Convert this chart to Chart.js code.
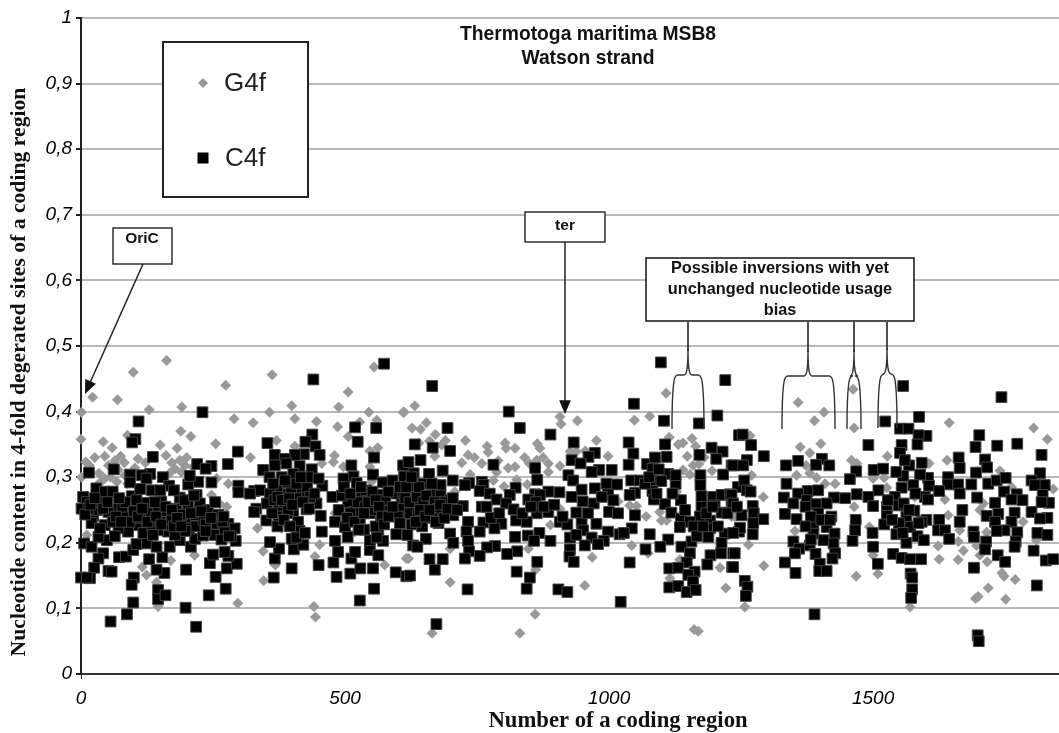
<!DOCTYPE html>
<html><head><meta charset="utf-8">
<style>html,body{margin:0;padding:0;background:#fff}#w{position:relative;width:1059px;height:733px}</style>
<script src="https://cdn.jsdelivr.net/npm/chart.js@4"></script>
</head><body><div id="w"><canvas id="c" width="1059" height="733"></canvas></div>
<script>
const titleLines=["Thermotoga maritima MSB8","Watson strand"];
const xAxisTitle="Number of a coding region";
const yAxisTitle="Nucleotide content in 4-fold degerated sites of a coding region";
const xTickValues=[0,500,1000,1500];
const yTickValues=[0,0.1,0.2,0.3,0.4,0.5,0.6,0.7,0.8,0.9,1];
const g4f=[[162,.478],[99,.46],[362,.456],[555,.468],[274,.44],[506,.43],[22,.422],[69,.418],[1,.399],[129,.403],[191,.407],[357,.399],[399,.409],[488,.407],[545,.399],[610,.399],[290,.389],[326,.383],[405,.389],[446,.385],[528,.384],[486,.377],[189,.37],[208,.362],[88,.364],[0,.358],[42,.354],[255,.351],[150,.349],[182,.344],[59,.345],[45,.332],[75,.332],[161,.333],[370,.356],[405,.347],[506,.362],[560,.387],[562,.345],[547,.34],[480,.333],[478,.323],[321,.33],[9,.323],[187,.326],[197,.318],[178,.313],[190,.308],[102,.314],[34,.306],[71,.311],[83,.303],[1,.3],[45,.298],[68,.293],[279,.29],[257,.298],[547,.316],[550,.293],[497,.316],[456,.321],[247,.273],[276,.255],[263,.259],[481,.245],[334,.222],[380,.222],[519,.217],[11,.212],[345,.187],[452,.197],[215,.181],[170,.173],[616,.176],[116,.163],[124,.151],[368,.166],[443,.179],[575,.166],[143,.14],[346,.142],[146,.103],[297,.108],[441,.103],[444,.087],
[632,.409],[612,.399],[1108,.428],[1077,.393],[1048,.387],[907,.392],[909,.381],[940,.386],[654,.383],[627,.375],[643,.373],[671,.365],[728,.356],[976,.356],[803,.352],[864,.351],[769,.347],[805,.344],[822,.344],[869,.344],[771,.338],[733,.334],[683,.349],[670,.332],[998,.332],[1114,.361],[1131,.35],[1140,.352],[1157,.359],[1164,.347],[1148,.332],[721,.322],[759,.321],[863,.326],[849,.321],[885,.321],[822,.316],[809,.314],[885,.308],[907,.317],[938,.339],[926,.339],[1159,.318],[1140,.311],[1153,.304],[787,.308],[737,.304],[781,.295],[825,.296],[845,.289],[801,.286],[708,.278],[1017,.263],[1039,.257],[1052,.256],[907,.252],[1070,.24],[1096,.247],[1099,.234],[1109,.234],[1128,.278],[1238,.24],[889,.227],[1043,.196],[699,.191],[847,.191],[1074,.184],[620,.176],[968,.178],[1175,.209],[1210,.162],[1134,.174],[861,.159],[1115,.146],[699,.14],[954,.135],[1221,.131],[860,.091],[665,.062],[831,.062],[1161,.068],[1169,.065],
[1462,.434],[1358,.414],[1407,.399],[1389,.386],[1464,.375],[1644,.383],[1804,.375],[1830,.358],[1362,.346],[1401,.351],[1267,.363],[1380,.337],[1527,.332],[1459,.326],[1640,.326],[1355,.303],[1373,.318],[1380,.306],[1393,.299],[1409,.29],[1428,.29],[1270,.303],[1469,.321],[1500,.298],[1521,.299],[1526,.284],[1606,.321],[1740,.31],[1762,.285],[1841,.282],[1292,.27],[1636,.266],[1464,.255],[1709,.26],[1579,.27],[1642,.242],[1702,.25],[1784,.232],[1232,.24],[1352,.218],[1493,.224],[1664,.219],[1715,.216],[1661,.202],[1671,.188],[1623,.195],[1264,.197],[1809,.204],[1696,.196],[1702,.181],[1500,.181],[1625,.175],[1661,.174],[1716,.171],[1293,.165],[1468,.149],[1509,.153],[1744,.154],[1748,.149],[1769,.144],[1718,.131],[1694,.115],[1699,.118],[1751,.114],[1257,.102],[1570,.102],
[16,.318],[26,.33],[52,.318],[64,.325],[82,.322],[108,.328],[122,.322],[172,.322],[200,.33],[212,.315],[168,.306],[88,.29],[56,.3],[36,.292],[660,.355],[690,.356],[640,.352],[745,.33],[790,.325],[840,.33],[875,.33],[955,.34],[1170,.32],[1180,.33],[1195,.31]];
const c4f=[[574,.473],[440,.449],[230,.399],[109,.385],[519,.376],[559,.375],[103,.358],[97,.353],[524,.354],[438,.365],[353,.352],[425,.354],[444,.347],[297,.339],[136,.331],[452,.334],[555,.33],[422,.335],[405,.334],[367,.334],[386,.328],[220,.32],[278,.32],[247,.317],[62,.312],[15,.307],[512,.318],[345,.311],[367,.318],[389,.321],[414,.317],[437,.312],[93,.304],[131,.305],[115,.303],[155,.3],[236,.313],[357,.3],[553,.304],[516,.301],[497,.298],[380,.3],[411,.3],[93,.292],[124,.298],[222,.293],[247,.292],[203,.289],[572,.292],[522,.291],[167,.287],[29,.283],[374,.284],[298,.287],[457,.287],[134,.28],[45,.278],[60,.278],[219,.273],[298,.277],[328,.279],[339,.28],[320,.275],[418,.278],[358,.275],[392,.274],[476,.27],[531,.274],[547,.27],[566,.273],[96,.271],[4,.27],[11,.262],[29,.256],[1,.252],[152,.263],[187,.269],[225,.26],[121,.261],[71,.252],[52,.247],[86,.243],[23,.241],[20,.23],[105,.265],[127,.245],[146,.25],[181,.252],[203,.257],[213,.242],[241,.25],[260,.243],[279,.229],[291,.222],[257,.229],[332,.252],[328,.247],[374,.255],[351,.234],[374,.24],[402,.245],[446,.26],[427,.251],[454,.241],[411,.232],[414,.218],[456,.217],[506,.262],[481,.232],[500,.224],[528,.237],[516,.247],[547,.245],[572,.25],[568,.232],[563,.217],[505,.209],[597,.213],[607,.265],[597,.251],[613,.306],[610,.318],[597,.275],[616,.245],[6,.199],[20,.194],[49,.204],[33,.209],[42,.184],[33,.176],[25,.162],[72,.178],[85,.179],[52,.157],[58,.156],[0,.147],[17,.146],[11,.147],[100,.147],[96,.136],[99,.109],[87,.091],[56,.08],[146,.128],[146,.114],[160,.12],[198,.101],[218,.072],[242,.12],[274,.13],[255,.148],[276,.161],[295,.168],[279,.18],[272,.186],[244,.169],[250,.182],[199,.159],[158,.154],[143,.159],[129,.175],[154,.178],[99,.189],[105,.198],[125,.199],[143,.194],[168,.194],[187,.204],[208,.194],[216,.206],[231,.211],[253,.212],[293,.203],[165,.217],[168,.227],[146,.219],[124,.224],[105,.227],[89,.217],[71,.222],[45,.227],[197,.23],[159,.24],[367,.176],[375,.191],[358,.201],[403,.19],[421,.197],[399,.206],[365,.147],[399,.161],[450,.166],[478,.17],[484,.148],[510,.153],[529,.161],[553,.161],[596,.155],[616,.149],[555,.13],[528,.112],[512,.176],[519,.186],[487,.186],[481,.203],[547,.189],[563,.181],[572,.203],[547,.204],
[665,.439],[1098,.475],[1220,.448],[810,.4],[1047,.412],[1104,.386],[1170,.382],[1205,.394],[831,.375],[694,.375],[889,.365],[632,.35],[666,.345],[699,.34],[933,.353],[1037,.353],[1046,.336],[1106,.35],[1109,.331],[1171,.334],[1194,.345],[1215,.339],[1246,.364],[973,.337],[961,.331],[929,.326],[946,.321],[781,.319],[643,.326],[620,.323],[860,.314],[1037,.319],[1072,.32],[1087,.33],[1232,.318],[1203,.328],[685,.31],[659,.305],[630,.306],[612,.301],[1005,.311],[981,.311],[967,.308],[923,.303],[1082,.313],[1112,.305],[1216,.304],[864,.296],[704,.295],[735,.291],[759,.293],[932,.295],[995,.29],[1015,.289],[1042,.295],[1082,.295],[1099,.294],[1126,.29],[1126,.303],[1173,.303],[623,.286],[648,.29],[681,.288],[727,.288],[762,.288],[823,.284],[973,.283],[948,.281],[1173,.288],[1244,.285],[906,.277],[860,.274],[885,.278],[998,.274],[1049,.276],[1082,.279],[755,.279],[774,.275],[812,.273],[609,.278],[667,.273],[681,.272],[699,.265],[869,.273],[929,.27],[1039,.273],[1085,.266],[1136,.265],[1175,.271],[1197,.27],[1213,.273],[1229,.274],[787,.266],[847,.266],[861,.262],[950,.263],[971,.26],[723,.256],[759,.255],[805,.26],[1106,.259],[1232,.259],[1200,.257],[1175,.255],[632,.256],[610,.252],[658,.26],[819,.251],[863,.245],[885,.247],[938,.246],[1000,.247],[1017,.245],[1049,.242],[1118,.246],[1213,.246],[1172,.24],[705,.242],[683,.245],[648,.24],[623,.245],[733,.232],[762,.231],[796,.229],[824,.234],[844,.232],[907,.232],[921,.228],[948,.23],[976,.229],[1136,.237],[1153,.232],[1191,.234],[1043,.222],[626,.228],[677,.23],[699,.214],[755,.217],[783,.222],[730,.217],[822,.209],[868,.215],[846,.211],[951,.219],[998,.217],[1020,.213],[1077,.213],[1134,.224],[1191,.222],[1219,.214],[1246,.217],[1188,.209],[653,.206],[629,.196],[637,.194],[705,.2],[733,.203],[784,.195],[769,.193],[858,.203],[889,.203],[926,.208],[938,.212],[967,.208],[990,.203],[979,.198],[954,.196],[1112,.205],[1156,.202],[1137,.194],[1213,.2],[1097,.194],[1069,.19],[926,.19],[925,.179],[826,.187],[807,.183],[755,.18],[735,.187],[727,.176],[685,.175],[660,.175],[670,.159],[623,.15],[864,.171],[825,.156],[850,.147],[844,.13],[732,.129],[904,.129],[921,.125],[933,.171],[1022,.11],[1039,.17],[1153,.184],[1147,.17],[1114,.161],[1131,.162],[1162,.156],[1150,.151],[1159,.141],[1114,.132],[1131,.134],[1147,.125],[1164,.128],[1192,.181],[1212,.184],[1186,.167],[1235,.184],[1233,.163],[673,.076],
[1557,.439],[1743,.422],[1523,.385],[1587,.392],[1551,.374],[1567,.374],[1253,.365],[1269,.349],[1293,.332],[1601,.363],[1586,.364],[1584,.35],[1491,.349],[1554,.349],[1551,.337],[1701,.364],[1694,.346],[1735,.348],[1773,.351],[1819,.334],[1662,.33],[1664,.314],[1712,.327],[1716,.315],[1695,.307],[1261,.326],[1235,.318],[1254,.318],[1335,.318],[1358,.325],[1403,.328],[1417,.318],[1392,.319],[1468,.309],[1501,.311],[1519,.313],[1568,.318],[1592,.322],[1560,.326],[1816,.306],[1336,.29],[1456,.297],[1256,.295],[1557,.302],[1544,.308],[1604,.299],[1589,.304],[1642,.3],[1642,.289],[1661,.289],[1686,.289],[1718,.29],[1734,.295],[1751,.299],[1800,.295],[1825,.288],[1806,.288],[1261,.28],[1268,.278],[1376,.279],[1396,.28],[1510,.28],[1554,.284],[1576,.288],[1606,.287],[1625,.279],[1664,.275],[1748,.278],[1772,.274],[1821,.273],[1232,.273],[1331,.269],[1358,.275],[1426,.269],[1469,.274],[1447,.268],[1491,.27],[1541,.27],[1598,.27],[1697,.269],[1604,.266],[1783,.265],[1833,.261],[1819,.262],[1762,.266],[1731,.261],[1235,.26],[1272,.256],[1349,.26],[1374,.265],[1392,.259],[1412,.26],[1500,.256],[1526,.255],[1548,.257],[1578,.249],[1669,.25],[1768,.246],[1800,.247],[1333,.244],[1251,.242],[1274,.245],[1292,.236],[1355,.236],[1396,.245],[1421,.24],[1467,.235],[1526,.241],[1563,.24],[1601,.235],[1625,.235],[1664,.232],[1715,.241],[1737,.244],[1830,.238],[1816,.237],[1731,.232],[1762,.232],[1273,.23],[1387,.227],[1412,.224],[1521,.228],[1549,.23],[1592,.232],[1466,.219],[1499,.215],[1570,.224],[1623,.219],[1749,.219],[1734,.218],[1773,.216],[1248,.223],[1235,.215],[1272,.213],[1387,.214],[1427,.214],[1544,.213],[1584,.21],[1636,.219],[1690,.217],[1811,.215],[1830,.212],[1461,.203],[1349,.202],[1563,.2],[1596,.204],[1644,.206],[1691,.209],[1714,.202],[1770,.202],[1768,.194],[1425,.199],[1406,.204],[1360,.191],[1380,.196],[1500,.194],[1712,.19],[1804,.188],[1238,.184],[1352,.184],[1391,.183],[1428,.184],[1423,.176],[1538,.183],[1554,.177],[1570,.175],[1591,.175],[1736,.181],[1750,.171],[1827,.173],[1841,.175],[1333,.17],[1353,.154],[1399,.168],[1398,.157],[1412,.157],[1509,.168],[1235,.163],[1691,.162],[1571,.153],[1574,.147],[1257,.142],[1262,.133],[1259,.119],[1574,.129],[1572,.116],[1810,.135],[1389,.091],[1698,.059],[1700,.05],
[30,.25],[38,.262],[60,.232],[78,.255],[112,.238],[118,.215],[135,.225],[140,.262],[172,.236],[192,.243],[205,.222],[218,.225],[232,.235],[268,.232],[284,.21],[14,.252],[36,.222],[64,.21],[92,.232],[150,.232],[178,.212],[198,.218],[236,.228],[272,.216],[352,.26],[362,.245],[384,.262],[392,.25],[398,.282],[408,.268],[428,.285],[434,.27],[366,.265],[390,.292],[402,.305],[430,.3],[488,.25],[494,.272],[510,.245],[524,.262],[536,.22],[538,.255],[540,.28],[556,.25],[558,.225],[560,.208],[576,.265],[582,.278],[590,.295],[600,.24],[604,.23],[614,.268],[622,.262],[636,.27],[640,.285],[648,.262],[654,.272],[670,.262],[676,.252],[690,.262],[638,.242],[618,.212],[646,.225],[664,.238],
[8,.243],[18,.258],[26,.268],[42,.252],[50,.262],[66,.24],[76,.232],[84,.262],[100,.248],[108,.24],[116,.252],[126,.232],[136,.212],[142,.24],[152,.228],[160,.255],[172,.25],[176,.225],[182,.238],[190,.225],[196,.265],[208,.245],[214,.272],[228,.248],[236,.218],[246,.238],[254,.262],[266,.205],[270,.24],[280,.21],[112,.282],[72,.268],[150,.28],[176,.28],[206,.302],[364,.29],[372,.27],[380,.265],[386,.295],[394,.268],[400,.258],[408,.29],[416,.3],[420,.262],[432,.252],[442,.275],[450,.298],[372,.225],[384,.235],[396,.225],[408,.208],[424,.215],[498,.285],[504,.238],[510,.275],[518,.232],[526,.22],[530,.285],[536,.245],[544,.262],[552,.278],[558,.265],[564,.255],[570,.24],[574,.228],[582,.24],[590,.255],[604,.285],[616,.285],[626,.3],[634,.232],[642,.25],[652,.24],[660,.25],[664,.29],[672,.232],[680,.258],[688,.238],[694,.252],[704,.268],[712,.25],[768,.255],[776,.238],[792,.245],[836,.245],[852,.255],[876,.255],[896,.258],[912,.24],[960,.245],[986,.27],[1008,.265],[1028,.215],[1058,.295],[1068,.29],[1076,.3],[1090,.275],[1094,.312],[1120,.275],[1144,.25],[1160,.225],[1166,.21],[1178,.225],[1184,.245],[1196,.255],[1206,.225],[1224,.245],[1242,.255],[1372,.255],[1382,.24],[1402,.235],[1372,.225],[1382,.205],[1418,.235],[1528,.265],[1536,.235],[1558,.26],[1568,.25],[1580,.275],[1586,.23],[1556,.215]];

const inkDark="#222";
function diamond(ctx,x,y,r,fill){ctx.fillStyle=fill;ctx.beginPath();ctx.moveTo(x,y-r);ctx.lineTo(x+r,y);ctx.lineTo(x,y+r);ctx.lineTo(x-r,y);ctx.closePath();ctx.fill();}
function box(ctx,x,y,w,h,lw){ctx.save();ctx.fillStyle="#fff";ctx.fillRect(x,y,w,h);ctx.strokeStyle=inkDark;ctx.lineWidth=lw;ctx.strokeRect(x,y,w,h);ctx.restore();}
function arrow(ctx,x1,y1,x2,y2){const a=Math.atan2(y2-y1,x2-x1),L=15,W=0.4;ctx.strokeStyle=inkDark;ctx.fillStyle="#111";ctx.lineWidth=1.5;ctx.beginPath();ctx.moveTo(x1,y1);ctx.lineTo(x2-Math.cos(a)*L*.8,y2-Math.sin(a)*L*.8);ctx.stroke();ctx.beginPath();ctx.moveTo(x2,y2);ctx.lineTo(x2-L*Math.cos(a-W),y2-L*Math.sin(a-W));ctx.lineTo(x2-L*Math.cos(a+W),y2-L*Math.sin(a+W));ctx.closePath();ctx.fill();}
function brace(ctx,l,r,c,top,bot,up){ctx.strokeStyle="#333";ctx.lineWidth=1.4;ctx.beginPath();ctx.moveTo(l,bot);ctx.bezierCurveTo(l,bot-22,l+1,top+12,l+2,top+6);ctx.quadraticCurveTo(l+3,top,l+6,top);ctx.lineTo(c-4,top);ctx.bezierCurveTo(c-1,top,c,top-8,c,top-26);ctx.bezierCurveTo(c,top-8,c+1,top,c+4,top);ctx.lineTo(r-6,top);ctx.quadraticCurveTo(r-3,top,r-2,top+6);ctx.bezierCurveTo(r-1,top+12,r,bot-22,r,bot);ctx.stroke();ctx.lineWidth=1.6;ctx.strokeStyle="#222";ctx.beginPath();ctx.moveTo(c,top-24);ctx.lineTo(c,up);ctx.stroke();}
const overlay={id:"overlay",afterDraw(chart){const ctx=chart.ctx;ctx.save();
ctx.textAlign="center";ctx.textBaseline="middle";
ctx.fillStyle="#111";ctx.font='bold 19.3px "Liberation Sans"';
ctx.fillText(titleLines[0],588,35);ctx.fillText(titleLines[1],588,59);
ctx.fillStyle="#111";ctx.font='bold 22.7px "Liberation Serif"';ctx.fillText(xAxisTitle,618,721);
ctx.font='bold 21.7px "Liberation Serif"';
ctx.save();ctx.translate(19,372);ctx.rotate(-Math.PI/2);ctx.fillText(yAxisTitle,0,0);ctx.restore();
box(ctx,163,42,145,155,2);
diamond(ctx,203,83,5,"#999");ctx.fillStyle="#000";ctx.fillRect(197.5,152.5,11,11);
ctx.textAlign="left";ctx.fillStyle="#222";ctx.font='26px "Liberation Sans"';
ctx.fillText(chart.data.datasets[0].label,224,84);ctx.fillText(chart.data.datasets[1].label,225,159);
arrow(ctx,143,264,85,394);arrow(ctx,565,242,565,414);
box(ctx,113,228,59,36,1.4);box(ctx,525,212,80,30,1.4);box(ctx,646,258,268,63,1.6);
ctx.textAlign="center";ctx.fillStyle="#111";ctx.font='bold 15.5px "Liberation Sans"';
ctx.fillText("OriC",142,239);ctx.fillText("ter",565,226);
ctx.font='bold 16.3px "Liberation Sans"';
ctx.fillText("Possible inversions with yet",780,269);ctx.fillText("unchanged nucleotide usage",780,290);ctx.fillText("bias",780,311);
brace(ctx,672,704,688,375,429,322);brace(ctx,782,835,808,376,429,322);brace(ctx,847,861,854,376,429,322);brace(ctx,878,897,887,374,428,322);
ctx.restore();}};
const tickFont={family:'"Liberation Sans"',size:19,style:"italic"};
new Chart(document.getElementById("c"),{type:"scatter",
data:{datasets:[
{label:"G4f",data:g4f.map(p=>({x:p[0],y:p[1]})),order:2,pointStyle:"rectRot",pointRadius:5.5,pointBackgroundColor:"#999",pointBorderColor:"#aaa",pointBorderWidth:0,clip:false},
{label:"C4f",data:c4f.map(p=>({x:p[0],y:p[1]})),order:1,pointStyle:"rect",pointRadius:7.6,pointBackgroundColor:"#000",pointBorderColor:"#444",pointBorderWidth:1,clip:false}]},
options:{responsive:false,animation:false,
layout:{autoPadding:false,padding:{top:18,left:0,right:0,bottom:0}},
plugins:{legend:{display:false},title:{display:false},tooltip:{enabled:false}},
scales:{
x:{type:"linear",min:0,max:1852,afterFit(s){s.height=59;s.paddingRight=0;s.paddingLeft=0},afterBuildTicks(s){s.ticks=xTickValues.map(v=>({value:v}))},
 grid:{drawOnChartArea:false,drawTicks:true,tickLength:5,tickColor:c=>c.tick&&c.tick.value===0?"#222":"rgba(0,0,0,0)"},border:{color:"#333",width:2},
 ticks:{font:tickFont,color:"#000",padding:8,maxRotation:0,autoSkip:false,callback:v=>String(v)}},
y:{type:"linear",min:0,max:1,afterFit(s){s.width=81;s.paddingTop=0;s.paddingBottom=0},afterBuildTicks(s){s.ticks=yTickValues.map(v=>({value:v}))},
 grid:{color:c=>c.tick&&c.tick.value===0?"rgba(0,0,0,0)":"#b8b8b8",lineWidth:2,tickLength:5,tickColor:"#222"},border:{color:"#222",width:2},
 ticks:{font:tickFont,color:"#000",padding:4,autoSkip:false,callback:v=>String(v).replace(".",",")}}
}},plugins:[overlay]});
</script></body></html>
